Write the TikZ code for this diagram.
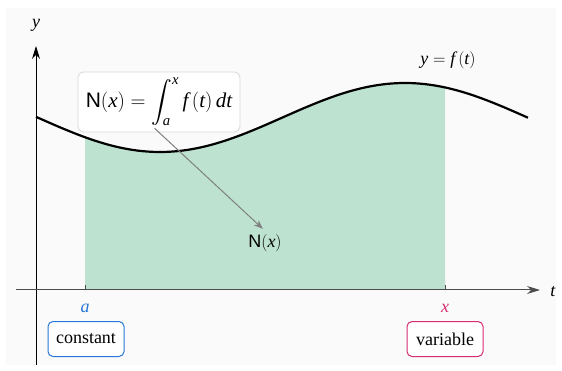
\documentclass[tikz,border=0pt]{standalone}
\usepackage{amsmath}
\usepackage{fontspec}
\setmainfont{Liberation Serif}
\setsansfont{Liberation Sans}
\usepackage{tikz}
\usetikzlibrary{arrows.meta, positioning, calc}

\definecolor{areagreen}{RGB}{189,226,208}
\definecolor{constblue}{RGB}{40,120,215}
\definecolor{varmagenta}{RGB}{215,45,115}

% italic variable in the serif text face
\newcommand{\mv}[1]{\textit{#1}}

\begin{document}
\begin{tikzpicture}[
    x=1pt, y=-1pt,
    font=\fontsize{18}{20}\selectfont,
    >={Stealth[length=13pt, width=8pt]},
    % Axis and curve styles
    axis/.style={->, line width=1pt, draw=black!85},
    curve/.style={line width=2.2pt, draw=black},
    area/.style={fill=areagreen, draw=none},
    tick/.style={line width=1pt, draw=black!70},
    % Label boxes
    labelbox/.style={rectangle, rounded corners=5pt, line width=1pt, fill=white, minimum width=76pt, minimum height=35pt, inner sep=3pt, font=\fontsize{18}{20}\selectfont},
    formula/.style={rectangle, rounded corners=6pt, draw=black!15, line width=0.8pt, fill=white, minimum width=162pt, minimum height=60pt, inner sep=2pt, font=\fontsize{21}{23}\selectfont},
    % Pointer arrow
    pointer/.style={-{Stealth[length=9pt, width=7pt]}, line width=1pt, draw=black!50}
]

% -----------------------------------------------------------
% Canvas
% -----------------------------------------------------------
\useasboundingbox (0,0) rectangle (562,371);
\fill[white] (0,0) rectangle (562,371);
\fill[black!2] (6,8) rectangle (556,365);

% -----------------------------------------------------------
% Area under the curve and the curve
% -----------------------------------------------------------
\fill[area] (85,290) -- plot[domain=85:445, samples=80] (\x, {117.5+34.5*cos(0.7346939*(\x-160))}) -- (445,290) -- cycle;
\draw[curve] plot[domain=36:528, samples=120] (\x, {117.5+34.5*cos(0.7346939*(\x-160))});

% -----------------------------------------------------------
% Axes
% -----------------------------------------------------------
\coordinate (ybot) at (36,365);
\coordinate (ytop) at (36,46);
\coordinate (xleft) at (16,290);
\coordinate (xright) at (540,290);
\draw[axis, draw=black] (ybot) -- (ytop);
\draw[axis, draw=black!70] (xleft) -- (xright);
\node (ylab) at (36,25) {\mv{y}};
\node (tlab) at (553,292) {\mv{t}};

\coordinate (aaxis) at (85,290);
\coordinate (xaxis) at (445,290);
\draw[tick] (aaxis) -- ++(0,-5);
\draw[tick] (xaxis) -- ++(0,-5);

% -----------------------------------------------------------
% Labels
% -----------------------------------------------------------
\node[text=constblue] (alab) at (85,308) {\mv{a}};
\node[text=varmagenta] (xlab) at (445,308) {\mv{x}};
\node[labelbox, draw=constblue] (constant) at (86,339) {constant};
\node[labelbox, draw=varmagenta] (variable) at (445,339) {variable};

\node (curvelab) at (448,60) {$\mv{y} = \mv{f}\,(\mv{t})$};

\node[formula] (integral) at (159,102) {$\textsf{N}(\mv{x}) = \displaystyle\int_{\mv{a}}^{\mv{x}} \mv{f}\,(\mv{t})\,\mv{dt}$};
\node (Nlab) at (265,243) {$\textsf{N}(\mv{x})$};

% -----------------------------------------------------------
% Connector
% -----------------------------------------------------------
\draw[pointer, shorten <=-6pt, shorten >=3pt] (integral.south) -- (Nlab.north);

\end{tikzpicture}
\end{document}
